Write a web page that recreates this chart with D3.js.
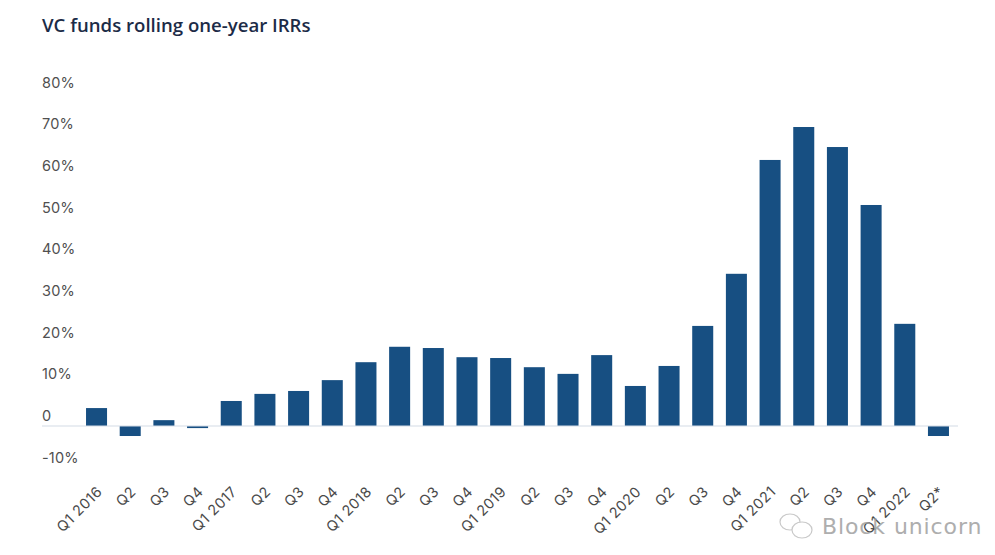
<!DOCTYPE html>
<html><head><meta charset="utf-8">
<script src="https://cdnjs.cloudflare.com/ajax/libs/d3/7.8.5/d3.min.js"></script>
<style>html,body{margin:0;padding:0;background:#fff}svg{display:block}</style>
</head><body><svg id="c" width="995" height="555"></svg>
<script>
const categories=["Q1 2016","Q2","Q3","Q4","Q1 2017","Q2","Q3","Q4","Q1 2018","Q2","Q3","Q4","Q1 2019","Q2","Q3","Q4","Q1 2020","Q2","Q3","Q4","Q1 2021","Q2","Q3","Q4","Q1 2022","Q2*"];
const irr=[4.3,-2.4,1.4,-0.5,6,7.7,8.4,11,15.3,19,18.7,16.5,16.3,14.1,12.5,17,9.6,14.4,24,36.5,63.8,71.7,66.9,53,24.5,-2.4];
const tickValues=[-10,0,10,20,30,40,50,60,70,80];
const title="VC funds rolling one-year IRRs";
const watermark="Block unicorn";

const svg=d3.select("#c");
const font="Inter, 'Open Sans', sans-serif";
const idx=categories.map((_,i)=>i);
const x=d3.scaleBand().domain(idx).range([79.7,955.3]).paddingInner(0.376).paddingOuter(0.188);
const y=d3.scaleLinear().domain([-10,80]).range([467.7,92.4]);

svg.append("text").attr("x",42).attr("y",31.5).attr("font-family","'Open Sans',sans-serif")
 .attr("font-weight",600).attr("font-size",18.6).attr("fill","#1c2b47").text(title);

// y axis
const yAxis=d3.axisLeft(y).tickValues(tickValues).tickSize(0).tickFormat(d=>d===0?"0":d+"%");
const gy=svg.append("g").attr("transform","translate(42,-10)").call(yAxis);
gy.select(".domain").remove();
gy.selectAll("text").attr("x",0).attr("text-anchor","start").attr("font-family",font)
 .attr("font-size",14.5).attr("letter-spacing",0.2).attr("fill","#505050");

// bars
svg.append("g").selectAll("rect").data(irr).join("rect")
 .attr("x",(d,i)=>x(i)).attr("width",x.bandwidth())
 .attr("y",d=>Math.min(y(d),y(0))).attr("height",d=>Math.abs(y(d)-y(0)))
 .attr("fill","#174f82");

// zero line
svg.append("line").attr("x1",42).attr("x2",958).attr("y1",y(0)).attr("y2",y(0))
 .attr("stroke","#d3dce6").attr("stroke-width",1.2);

// x axis
const xAxis=d3.axisBottom(x).tickSize(0).tickFormat(i=>categories[i]);
const gx=svg.append("g").call(xAxis);
gx.select(".domain").remove();
gx.selectAll(".tick").attr("transform",i=>`translate(${x(i)+x.bandwidth()/2+3},489)`);
gx.selectAll("text").attr("x",0).attr("y",0).attr("dy","0.35em").attr("text-anchor","end")
 .attr("transform","rotate(-45)").attr("font-family",font).attr("font-size",14.5)
 .attr("letter-spacing",0.45).attr("fill","#4a4a4a");

// watermark
const wm=svg.append("g").attr("fill","none").attr("stroke","#c9c9c9").attr("stroke-width",1.2);
wm.append("ellipse").attr("cx",790).attr("cy",522).attr("rx",10).attr("ry",8);
wm.append("ellipse").attr("cx",802).attr("cy",530).attr("rx",10).attr("ry",8).attr("fill","#fff");
svg.append("text").attr("x",822).attr("y",534).attr("font-family","'DejaVu Sans',sans-serif")
 .attr("font-size",22).attr("letter-spacing",0.9).attr("fill","#a0a0a0").attr("opacity",0.85).text(watermark);
</script></body></html>
